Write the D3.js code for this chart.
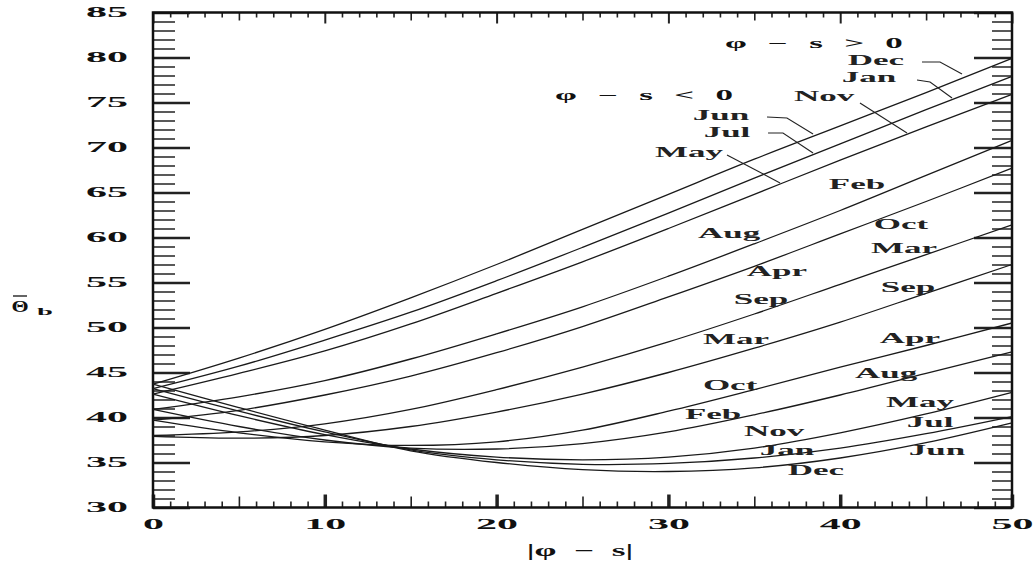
<!DOCTYPE html>
<html>
<head>
<meta charset="utf-8">
<script src="https://cdn.jsdelivr.net/npm/d3@7"></script>
<style>
  body { margin: 0; background: #fff; }
  svg { display: block; }
</style>
</head>
<body>
<div id="chart"></div>
<script>
// |phi - s| sample points
const xVals = [0, 5, 10, 15, 20, 25, 30, 35, 40, 45, 50];

// mean angle per month (phi - s > 0 naming)
const decVals = [43.7, 46.6, 49.8, 53.3, 57.0, 60.9, 64.8, 68.7, 72.4, 76.1, 79.9];
const janVals = [43.2, 45.7, 48.6, 51.7, 55.2, 58.9, 62.7, 66.6, 70.4, 74.2, 77.9];
const novVals = [42.6, 44.9, 47.4, 50.4, 53.8, 57.3, 61.0, 64.8, 68.6, 72.3, 75.9];
const febVals = [40.9, 42.3, 44.1, 46.5, 49.3, 52.3, 55.7, 59.3, 63.0, 66.9, 70.8];
const octVals = [39.7, 40.8, 42.5, 44.6, 47.2, 50.1, 53.4, 56.8, 60.4, 64.0, 67.7];
const marVals = [38.0, 38.4, 39.3, 40.9, 43.1, 45.6, 48.4, 51.5, 54.8, 58.1, 61.4];
const sepVals = [37.9, 37.7, 38.0, 39.0, 40.6, 42.6, 45.0, 47.7, 50.6, 53.8, 57.0];
const aprVals = [39.7, 38.3, 37.3, 36.9, 37.3, 38.6, 40.7, 43.1, 45.6, 48.0, 50.5];
const augVals = [40.9, 39.0, 37.5, 36.6, 36.5, 37.1, 38.4, 40.3, 42.5, 44.9, 47.3];
const mayVals = [42.6, 40.2, 38.1, 36.5, 35.6, 35.3, 35.6, 36.6, 38.3, 40.4, 42.8];
const julVals = [43.2, 40.7, 38.4, 36.4, 35.3, 34.8, 34.9, 35.5, 36.6, 38.2, 40.1];
const junVals = [43.7, 41.1, 38.6, 36.3, 35.0, 34.2, 34.0, 34.4, 35.5, 37.2, 39.4];

const series = [decVals, janVals, novVals, febVals, octVals, marVals,
                sepVals, aprVals, augVals, mayVals, julVals, junVals];

// axis ticks
const xTickVals = [0, 10, 20, 30, 40, 50];
const yTickVals = [30, 35, 40, 45, 50, 55, 60, 65, 70, 75, 80, 85];

// month labels, in data units (x = |phi - s|, y = angle)
const monthLabels = [
    // phi - s > 0
    { t: "Dec", x: 42.08, y: 79.72 }, { t: "Jan", x: 41.68, y: 77.83 },
    { t: "Nov", x: 39.06, y: 75.72 }, { t: "Feb", x: 40.98, y: 65.94 },
    { t: "Oct", x: 43.54, y: 61.39 }, { t: "Mar", x: 43.71, y: 58.83 },
    { t: "Sep", x: 43.95, y: 54.39 }, { t: "Apr", x: 44.06, y: 48.83 },
    { t: "Aug", x: 42.67, y: 44.94 }, { t: "May", x: 44.65, y: 41.72 },
    { t: "Jul", x: 45.23, y: 39.39 }, { t: "Jun", x: 45.63, y: 36.28 },
    // phi - s < 0
    { t: "Jun", x: 33.06, y: 73.61 }, { t: "Jul", x: 33.41, y: 71.72 },
    { t: "May", x: 31.20, y: 69.39 }, { t: "Aug", x: 33.53, y: 60.50 },
    { t: "Apr", x: 36.32, y: 56.17 }, { t: "Sep", x: 35.39, y: 53.06 },
    { t: "Mar", x: 33.93, y: 48.72 }, { t: "Oct", x: 33.59, y: 43.61 },
    { t: "Feb", x: 32.60, y: 40.28 }, { t: "Nov", x: 36.15, y: 38.39 },
    { t: "Jan", x: 36.90, y: 36.28 }, { t: "Dec", x: 38.59, y: 34.06 }
];
const groupLabels = [
    { t: "\u03c6 \u2212 s > 0", x: 38.47, y: 81.61 },
    { t: "\u03c6 \u2212 s < 0", x: 28.58, y: 75.83 }
];
// leader lines from labels to their curves
const leaders = [
    [[44.76, 79.50], [45.81, 79.50], [47.09, 78.17]],
    [[44.47, 77.50], [45.23, 77.28], [46.51, 75.50]],
    [[41.15, 74.94], [43.89, 71.61]],
    [[35.74, 73.39], [36.90, 73.28], [38.42, 71.50]],
    [[35.80, 71.61], [36.67, 71.61], [38.42, 69.39]],
    [[33.41, 69.17], [36.50, 66.06]]
];

const width = 1036, height = 565;
const FONT = "'Liberation Serif', 'DejaVu Serif', serif";

const x = d3.scaleLinear().domain([0, 50]).range([153, 1012]);
const y = d3.scaleLinear().domain([30, 85]).range([507.5, 12.5]);

const svg = d3.select("#chart").append("svg")
    .attr("width", width)
    .attr("height", height)
    .attr("viewBox", `0 0 ${width} ${height}`);

svg.append("rect").attr("width", width).attr("height", height).attr("fill", "#fff");

// inward tick marks on all four sides
function tickRow(axisFn, scale, values, size, transform, sw) {
    const g = svg.append("g")
        .attr("transform", transform)
        .call(axisFn(scale).tickValues(values).tickSize(size).tickFormat(""));
    g.select(".domain").remove();
    g.selectAll(".tick line").attr("stroke", "#222").attr("stroke-width", sw);
    return g;
}
const minorX = d3.range(0, 51).filter(d => d % 5 !== 0);
const midX = d3.range(5, 50, 10);
const minorY = d3.range(30, 86).filter(d => d % 5 !== 0);

const bottomT = `translate(0,${y(30)})`;
const topT = `translate(0,${y(85)})`;
const leftT = `translate(${x(0)},0)`;
const rightT = `translate(${x(50)},0)`;

tickRow(d3.axisBottom, x, minorX, -6, bottomT, 1.6);
tickRow(d3.axisBottom, x, midX, -11, bottomT, 1.6);
tickRow(d3.axisBottom, x, xTickVals, -13, bottomT, 3.5);
tickRow(d3.axisTop, x, minorX, -5, topT, 1.6);
tickRow(d3.axisTop, x, midX, -8, topT, 1.6);
tickRow(d3.axisTop, x, xTickVals, -11, topT, 2);
tickRow(d3.axisLeft, y, minorY, -22, leftT, 1.5);
tickRow(d3.axisLeft, y, yTickVals, -37, leftT, 2.5);
tickRow(d3.axisRight, y, minorY, -20, rightT, 1.5);
tickRow(d3.axisRight, y, yTickVals, -38, rightT, 2.5);

// frame
svg.append("rect")
    .attr("x", x(0)).attr("y", y(85))
    .attr("width", x(50) - x(0)).attr("height", y(30) - y(85))
    .attr("fill", "none").attr("stroke", "#111").attr("stroke-width", 2.5);

// tick labels
const xAxisG = svg.append("g").attr("transform", bottomT)
    .call(d3.axisBottom(x).tickValues(xTickVals).tickSize(0));
xAxisG.select(".domain").remove();
xAxisG.selectAll(".tick text")
    .attr("x", 0).attr("y", 0).attr("dy", 0)
    .attr("text-anchor", "middle")
    .attr("transform", "translate(0,21) scale(3,1)")
    .attr("font-family", FONT).attr("font-weight", "bold")
    .attr("font-size", "14px").attr("fill", "#111");

const yAxisG = svg.append("g").attr("transform", leftT)
    .call(d3.axisLeft(y).tickValues(yTickVals).tickSize(0));
yAxisG.select(".domain").remove();
yAxisG.selectAll(".tick text")
    .attr("x", 0).attr("y", 0).attr("dy", 0)
    .attr("text-anchor", "middle")
    .attr("transform", "translate(-46,4) scale(3,1)")
    .attr("font-family", FONT).attr("font-weight", "bold")
    .attr("font-size", "14px").attr("fill", "#111");

// curves
const line = d3.line()
    .x((d, i) => x(xVals[i]))
    .y(d => y(d))
    .curve(d3.curveCatmullRom.alpha(0.5));

svg.append("g").selectAll("path")
    .data(series)
    .join("path")
    .attr("d", line)
    .attr("fill", "none")
    .attr("stroke", "#1a1a1a")
    .attr("stroke-width", 1.3);

// leaders
const leaderLine = d3.line().x(d => x(d[0])).y(d => y(d[1]));
svg.append("g").selectAll("path")
    .data(leaders)
    .join("path")
    .attr("d", leaderLine)
    .attr("fill", "none")
    .attr("stroke", "#222")
    .attr("stroke-width", 1.1);

// month labels (stretched serif, like the scanned figure)
svg.append("g").selectAll("text")
    .data(monthLabels)
    .join("text")
    .attr("transform", d => `translate(${x(d.x)},${y(d.y) + 4.5}) scale(2.5,1)`)
    .attr("text-anchor", "middle")
    .attr("font-family", FONT).attr("font-weight", "bold")
    .attr("font-size", "14px").attr("fill", "#222")
    .text(d => d.t);

svg.append("g").selectAll("text")
    .data(groupLabels)
    .join("text")
    .attr("transform", d => `translate(${x(d.x)},${y(d.y) + 4.5}) scale(2.5,1)`)
    .attr("text-anchor", "middle")
    .attr("font-family", FONT).attr("font-weight", "bold")
    .attr("font-size", "14px").attr("word-spacing", "5px").attr("fill", "#111")
    .text(d => d.t);

// axis titles
svg.append("text")
    .attr("transform", "translate(580,556) scale(2.2,1)")
    .attr("text-anchor", "middle")
    .attr("font-family", FONT).attr("font-weight", "bold")
    .attr("font-size", "16px").attr("word-spacing", "4px").attr("fill", "#111")
    .text("|\u03c6 \u2212 s|");

const yTitle = svg.append("g").attr("transform", "translate(20,312)");
yTitle.append("text")
    .attr("transform", "scale(1.3,1)")
    .attr("text-anchor", "middle")
    .attr("font-family", FONT).attr("font-weight", "bold")
    .attr("font-size", "17px").attr("fill", "#111")
    .text("\u0398");
yTitle.append("line")
    .attr("x1", -7).attr("x2", 7).attr("y1", -16).attr("y2", -16)
    .attr("stroke", "#111").attr("stroke-width", 1.3);
yTitle.append("text")
    .attr("transform", "translate(25,3) scale(2.6,1)")
    .attr("text-anchor", "middle")
    .attr("font-family", FONT).attr("font-weight", "bold")
    .attr("font-size", "11px").attr("fill", "#111")
    .text("b");
</script>
</body>
</html>
